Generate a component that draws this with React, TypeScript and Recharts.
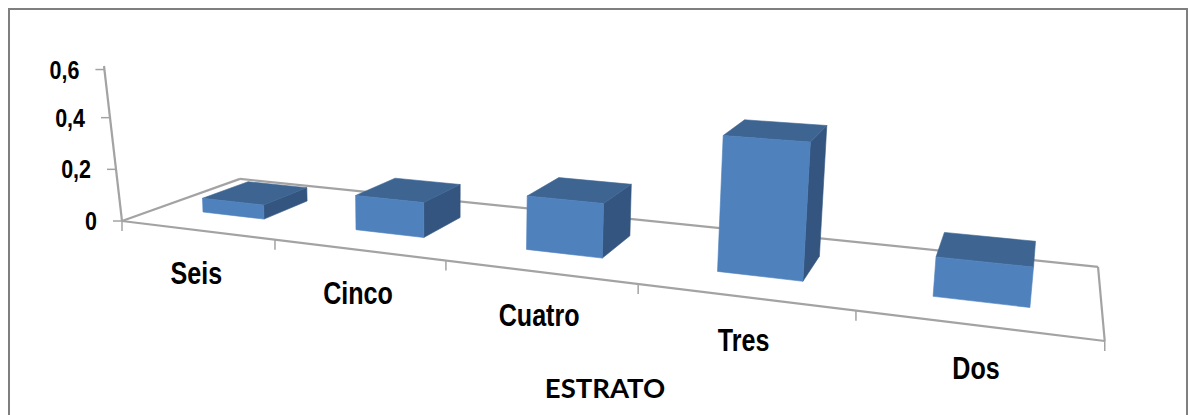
import React from "react";
import { BarChart, Bar, XAxis, YAxis, Customized } from "recharts";

// Estrato categories and their shares
const categories = ["Seis", "Cinco", "Cuatro", "Tres", "Dos"];
const values = [0.053, 0.125, 0.185, 0.44, 0.122];
const valueTicks = [0, 0.2, 0.4, 0.6];
const axisTitle = "ESTRATO";

const rows = categories.map((name, i) => ({ name, value: values[i] }));

const W = 1188;
const H = 415;
const AXIS_W = 20;
const AXIS_H = 20;
const MAX = 0.6;
const DEPTH_FRONT = 0.3;
const DEPTH_BACK = 0.7;

const LABEL_FONT = '"Liberation Sans", Arial, sans-serif';
const GRID = "#a3a3a3";

// Perspective camera: u = category position, d = floor depth, h = value
function project(u: number, d: number, h: number): [number, number] {
  const w = 1 - 0.0525 * u + 0.1433 * d - 0.0392 * h;
  return [
    (122 + 138.55 * u + 152.4 * d - 17.2 * h) / w,
    (221 + 6.1 * u - 16.5 * d - 274 * h) / w,
  ];
}

// The value axis has its own lean on the left wall
function wallPoint(h: number): [number, number] {
  const t = h / MAX;
  return [122 - 18 * t, 221 - 155 * t];
}

// Plot-area pixels back to category position and value
const toU = (x: number) => ((x - AXIS_W) / (W - AXIS_W)) * categories.length;
const toH = (y: number) => ((H - AXIS_H - y) / (H - AXIS_H)) * MAX;
const pts = (list: [number, number][]) => list.map((p) => `${p[0].toFixed(1)},${p[1].toFixed(1)}`).join(" ");

function Face({ points, fill }: { points: [number, number][]; fill: string }) {
  return <polygon points={pts(points)} fill={fill} stroke={fill} strokeWidth={0.6} strokeLinejoin="round" />;
}

function Box(props: any) {
  const { x, y, width } = props;
  const u0 = toU(x);
  const u1 = toU(x + width);
  const h = toH(y);
  const fbl = project(u0, DEPTH_FRONT, 0);
  const fbr = project(u1, DEPTH_FRONT, 0);
  const ftl = project(u0, DEPTH_FRONT, h);
  const ftr = project(u1, DEPTH_FRONT, h);
  const bbr = project(u1, DEPTH_BACK, 0);
  const btl = project(u0, DEPTH_BACK, h);
  const btr = project(u1, DEPTH_BACK, h);
  return (
    <g>
      {bbr[0] > fbr[0] + 3 && <Face points={[fbr, bbr, btr, ftr]} fill="#33557f" />}
      <Face points={[ftl, ftr, btr, btl]} fill="#3e6592" />
      <Face points={[fbl, fbr, ftr, ftl]} fill="#4f81bd" />
    </g>
  );
}

function Floor() {
  const n = categories.length;
  const fl = project(0, 0, 0);
  const fr = project(n, 0, 0);
  const bl = project(0, 1, 0);
  const br = project(n, 1, 0);
  const top = wallPoint(MAX);
  const seg = (a: [number, number], b: [number, number], key: string) => (
    <line key={key} x1={a[0]} y1={a[1]} x2={b[0]} y2={b[1]} stroke={GRID} strokeWidth={2.2} />
  );
  return (
    <g>
      <path d="M9 430V9H1187V430" fill="none" stroke="#7f7f7f" strokeWidth={2} />
      {seg(fl, fr, "front")}
      {seg(fl, bl, "left")}
      {seg(bl, br, "back")}
      {seg(br, fr, "right")}
      {seg(fl, top, "wall")}
      {Array.from({ length: n + 1 }, (_, i) => {
        const p = project(i, 0, 0);
        return <line key={i} x1={p[0]} y1={p[1]} x2={p[0]} y2={p[1] + 10} stroke={GRID} strokeWidth={1.5} />;
      })}
      <text x={605} y={398} textAnchor="middle" fontFamily="Lato, sans-serif" fontWeight={700} fontSize={27.5} fill="#000">
        {axisTitle}
      </text>
    </g>
  );
}

// Condensed bold label: the sans face squeezed horizontally about its anchor
function NarrowText({ x, y, size, squeeze, anchor, children }: any) {
  return (
    <text
      transform={`translate(${x} ${y}) scale(${squeeze} 1)`}
      textAnchor={anchor}
      fontFamily={LABEL_FONT}
      fontWeight={700}
      fontSize={size}
      fill="#000"
    >
      {children}
    </text>
  );
}

function CategoryTick(props: any) {
  const { x, payload } = props;
  const p = project(toU(x), 0, 0);
  return (
    <NarrowText x={p[0]} y={p[1] + 54} size={31} squeeze={0.81} anchor="middle">
      {payload.value}
    </NarrowText>
  );
}

function ValueTick(props: any) {
  const { y, payload } = props;
  const p = wallPoint(toH(y));
  return (
    <g>
      <line x1={p[0] - 9} y1={p[1]} x2={p[0]} y2={p[1]} stroke={GRID} strokeWidth={1.5} />
      <NarrowText x={p[0] - 25} y={p[1] + 9} size={25} squeeze={0.86} anchor="end">
        {String(payload.value).replace(".", ",")}
      </NarrowText>
    </g>
  );
}

export default function App() {
  return (
    <div style={{ position: "absolute", left: 0, top: 0, width: W, height: H, overflow: "hidden", background: "#fff" }}>
      <BarChart width={W} height={H} data={rows} margin={{ top: 0, right: 0, bottom: 0, left: 0 }} barCategoryGap="29.5%">
        <XAxis dataKey="name" height={AXIS_H} axisLine={false} tickLine={false} interval={0} tick={<CategoryTick />} />
        <YAxis
          width={AXIS_W}
          domain={[0, MAX]}
          ticks={valueTicks}
          axisLine={false}
          tickLine={false}
          tick={<ValueTick />}
        />
        <Customized component={Floor} />
        <Bar dataKey="value" isAnimationActive={false} shape={<Box />} />
      </BarChart>
    </div>
  );
}
